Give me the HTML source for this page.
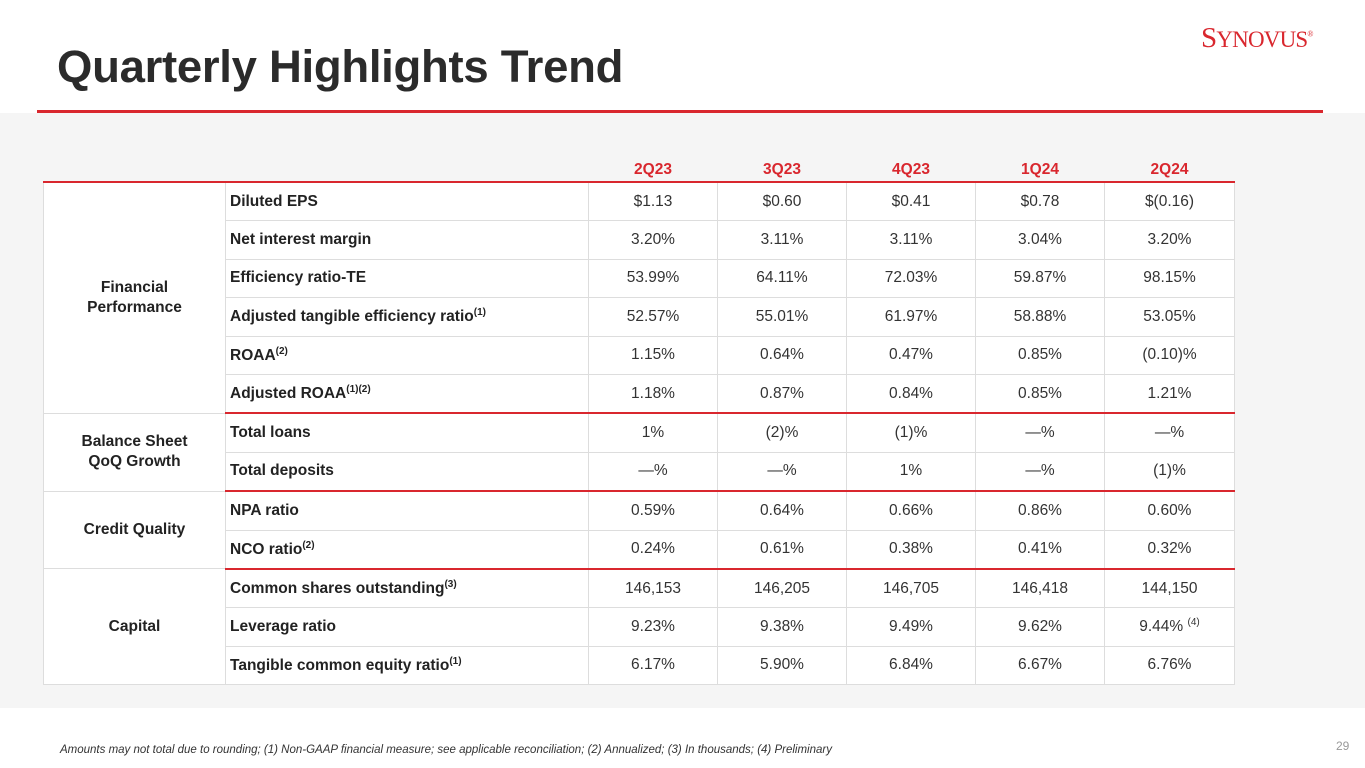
<!DOCTYPE html>
<html><head><meta charset="utf-8"><style>
body{margin:0;width:1365px;height:768px;position:relative;overflow:hidden;background:#fff;font-family:"Liberation Sans",sans-serif;color:#222}
.band{position:absolute;left:0;top:113px;width:1365px;height:595px;background:#f5f5f5}
h1{position:absolute;left:57px;top:41px;margin:0;font-size:45.5px;font-weight:bold;color:#2b2b2b;letter-spacing:-0.3px}
.rule{position:absolute;left:37px;top:110px;width:1286px;height:3px;background:#d9272e}
.logo{position:absolute;left:1201px;top:22px;font-family:"Liberation Serif",serif;color:#d9272e;font-size:29px;letter-spacing:-0.8px}
table{position:absolute;left:43px;top:158px;border-collapse:collapse;font-size:15.5px;table-layout:fixed;width:1191px}
td{height:37.4px;padding:0;border:1px solid #ddd;background:#fff}
thead td{height:23px;border:none;background:transparent;color:#d9272e;font-weight:bold;text-align:center;border-bottom:2px solid #d9272e}
.g{text-align:center;font-weight:bold;line-height:20px}
.l{padding-left:4px;font-weight:bold;text-align:left}
.v{text-align:center;color:#333}
tr.sep td.l,tr.sep td.v{border-top:2px solid #d9272e}
sup{font-size:10px}
.foot{position:absolute;left:60px;top:744px;font-size:11.5px;font-style:italic;color:#333}
.pg{position:absolute;left:1336px;top:739px;font-size:12px;color:#999}
</style></head><body>
<div class="band"></div>
<h1>Quarterly Highlights Trend</h1>
<div class="logo">S<span style="font-size:23px">YNOVUS</span><sup style="font-size:8px">®</sup></div>
<div class="rule"></div>
<table>
<colgroup><col style="width:182px"><col style="width:363px"><col style="width:129px"><col style="width:129px"><col style="width:129px"><col style="width:129px"><col style="width:130px"></colgroup>
<thead><tr><td class="g" style="font-weight:normal"></td><td class="l"></td><td class="v" style="color:#d9272e">2Q23</td><td class="v" style="color:#d9272e">3Q23</td><td class="v" style="color:#d9272e">4Q23</td><td class="v" style="color:#d9272e">1Q24</td><td class="v" style="color:#d9272e">2Q24</td></tr></thead>
<tbody>
<tr><td class="g" rowspan="6">Financial<br>Performance</td><td class="l">Diluted EPS</td><td class="v">$1.13</td><td class="v">$0.60</td><td class="v">$0.41</td><td class="v">$0.78</td><td class="v">$(0.16)</td></tr>
<tr><td class="l">Net interest margin</td><td class="v">3.20%</td><td class="v">3.11%</td><td class="v">3.11%</td><td class="v">3.04%</td><td class="v">3.20%</td></tr>
<tr><td class="l">Efficiency ratio-TE</td><td class="v">53.99%</td><td class="v">64.11%</td><td class="v">72.03%</td><td class="v">59.87%</td><td class="v">98.15%</td></tr>
<tr><td class="l">Adjusted tangible efficiency ratio<sup>(1)</sup></td><td class="v">52.57%</td><td class="v">55.01%</td><td class="v">61.97%</td><td class="v">58.88%</td><td class="v">53.05%</td></tr>
<tr><td class="l">ROAA<sup>(2)</sup></td><td class="v">1.15%</td><td class="v">0.64%</td><td class="v">0.47%</td><td class="v">0.85%</td><td class="v">(0.10)%</td></tr>
<tr><td class="l">Adjusted ROAA<sup>(1)(2)</sup></td><td class="v">1.18%</td><td class="v">0.87%</td><td class="v">0.84%</td><td class="v">0.85%</td><td class="v">1.21%</td></tr>
<tr class="sep"><td class="g" rowspan="2">Balance Sheet<br>QoQ Growth</td><td class="l">Total loans</td><td class="v">1%</td><td class="v">(2)%</td><td class="v">(1)%</td><td class="v">—%</td><td class="v">—%</td></tr>
<tr><td class="l">Total deposits</td><td class="v">—%</td><td class="v">—%</td><td class="v">1%</td><td class="v">—%</td><td class="v">(1)%</td></tr>
<tr class="sep"><td class="g" rowspan="2">Credit Quality</td><td class="l">NPA ratio</td><td class="v">0.59%</td><td class="v">0.64%</td><td class="v">0.66%</td><td class="v">0.86%</td><td class="v">0.60%</td></tr>
<tr><td class="l">NCO ratio<sup>(2)</sup></td><td class="v">0.24%</td><td class="v">0.61%</td><td class="v">0.38%</td><td class="v">0.41%</td><td class="v">0.32%</td></tr>
<tr class="sep"><td class="g" rowspan="3">Capital</td><td class="l">Common shares outstanding<sup>(3)</sup></td><td class="v">146,153</td><td class="v">146,205</td><td class="v">146,705</td><td class="v">146,418</td><td class="v">144,150</td></tr>
<tr><td class="l">Leverage ratio</td><td class="v">9.23%</td><td class="v">9.38%</td><td class="v">9.49%</td><td class="v">9.62%</td><td class="v">9.44% <sup>(4)</sup></td></tr>
<tr><td class="l">Tangible common equity ratio<sup>(1)</sup></td><td class="v">6.17%</td><td class="v">5.90%</td><td class="v">6.84%</td><td class="v">6.67%</td><td class="v">6.76%</td></tr>
</tbody></table>
<div class="foot">Amounts may not total due to rounding; (1) Non-GAAP financial measure; see applicable reconciliation; (2) Annualized; (3) In thousands; (4) Preliminary</div>
<div class="pg">29</div>
</body></html>
